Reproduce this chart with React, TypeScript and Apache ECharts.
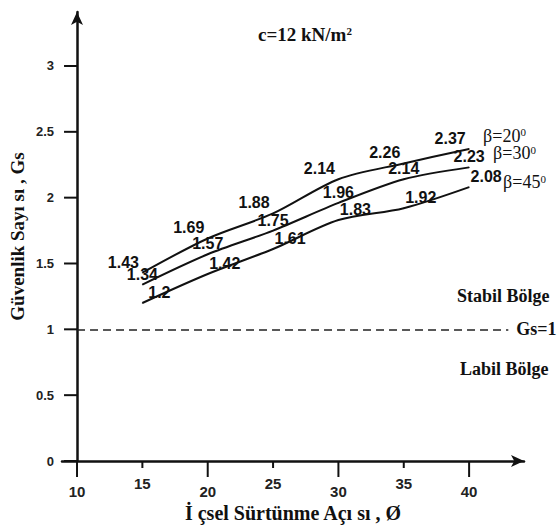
import React, { useEffect, useRef } from "react";
import * as echarts from "echarts";

const angles = [15, 20, 25, 30, 35, 40];
const gsBeta20 = [1.43, 1.69, 1.88, 2.14, 2.26, 2.37];
const gsBeta30 = [1.34, 1.57, 1.75, 1.96, 2.14, 2.23];
const gsBeta45 = [1.2, 1.42, 1.61, 1.83, 1.92, 2.08];
const betaNames = ["β=20", "β=30", "β=45"];
const xMajorTicks = [10, 20, 30, 40];
const xMinorTicks = [15, 25, 35];
const yTicks = [0, 0.5, 1, 1.5, 2, 2.5, 3];
const xAxisLineStart = 8.85;
const xAxisLineEnd = 44.2;
const yAxisLineEnd = 3.41;
const yAxisAt = 10;
const safetyLimit = 1;
const limitEnd = 43;

const SERIF = "'Liberation Serif', 'Times New Roman', serif";
const SANS = "'Liberation Sans', Arial, sans-serif";

export default function App() {
  const ref = useRef<HTMLDivElement>(null);
  useEffect(() => {
    if (!ref.current) return;
    const chart = echarts.init(ref.current, null, { renderer: "svg" });
    const sets = [gsBeta20, gsBeta30, gsBeta45];
    const labelDx = [-19, 0, 17];
    const endOffsets = [
      [14, -13],
      [24, -14],
      [34, -5],
    ];
    const series: any[] = sets.map((vals, i) => ({
      type: "line",
      name: betaNames[i],
      data: angles.map((a, k) => [a, vals[k]]),
      smooth: 0.3,
      symbol: "circle",
      symbolSize: 1,
      itemStyle: { color: "#111" },
      lineStyle: { color: "#111", width: 2 },
      label: {
        show: true,
        position: "top",
        distance: 2,
        offset: [labelDx[i], 0],
        formatter: (p: any) => String(p.value[1]),
        fontFamily: SANS,
        fontWeight: "bold",
        fontSize: 16,
        color: "#111",
      },
      endLabel: {
        show: true,
        distance: 0,
        offset: endOffsets[i],
        align: "left",
        formatter: "{a|" + betaNames[i] + "}{s|0}",
        rich: {
          a: { fontFamily: SERIF, fontSize: 18, color: "#111" },
          s: { fontFamily: SERIF, fontSize: 11, color: "#111", verticalAlign: "top" },
        },
      },
      markLine:
        i === 0
          ? {
              silent: true,
              symbol: "none",
              lineStyle: { type: [8, 5], color: "#222", width: 1.5 },
              label: {
                show: true,
                position: "end",
                distance: 8,
                formatter: "Gs=1",
                fontFamily: SERIF,
                fontWeight: "bold",
                fontSize: 18,
                color: "#111",
              },
              data: [[{ coord: [yAxisAt, safetyLimit] }, { coord: [limitEnd, safetyLimit] }]],
            }
          : undefined,
    }));

    const tickLabelStyle = { fontFamily: SANS, fontWeight: "bold", color: "#222" };
    const textStyle = (text: string) => ({
      text,
      fontFamily: SERIF,
      fontWeight: "bold",
      fontSize: 18,
      fill: "#111",
      verticalAlign: "middle",
    });

    chart.setOption({
      animation: false,
      title: {
        text: "{a|c=12 kN/m}{s|2}",
        left: 253,
        top: 20,
        textStyle: {
          rich: {
            a: { fontFamily: SERIF, fontWeight: "bold", fontSize: 19, color: "#111" },
            s: { fontFamily: SERIF, fontWeight: "bold", fontSize: 11, color: "#111", verticalAlign: "top" },
          },
        },
      },
      grid: { left: 62, right: 33, top: 12, bottom: 68, containLabel: false },
      xAxis: [
        {
          type: "value",
          position: "bottom",
          min: xAxisLineStart,
          max: xAxisLineEnd,
          axisLine: {
            show: true,
            onZero: false,
            symbol: ["none", "arrow"],
            symbolSize: [9, 13],
            lineStyle: { color: "#111", width: 2.5 },
          },
          axisTick: { show: false },
          axisLabel: { ...tickLabelStyle, fontSize: 15, margin: 15, customValues: xMinorTicks },
          splitLine: { show: false },
          name: "İ çsel Sürtünme Açı sı , Ø",
          nameLocation: "middle",
          nameGap: 42,
          nameTextStyle: { fontFamily: SERIF, fontWeight: "bold", fontSize: 20, color: "#111" },
        },
        {
          type: "value",
          position: "bottom",
          min: xAxisLineStart,
          max: xAxisLineEnd,
          axisLine: { show: false, onZero: false },
          axisTick: { show: false },
          axisLabel: { ...tickLabelStyle, fontSize: 15, margin: 23, customValues: xMajorTicks },
          splitLine: { show: false },
        },
      ],
      yAxis: {
        type: "value",
        position: "left",
        min: 0,
        max: yAxisLineEnd,
        offset: -15,
        axisLine: {
          show: true,
          onZero: false,
          symbol: ["none", "arrow"],
          symbolSize: [9, 13],
          lineStyle: { color: "#111", width: 2.5 },
        },
        axisTick: { show: false },
        axisLabel: { show: false },
        splitLine: { show: false },
        name: "Güvenlik Sayı sı , Gs",
        nameLocation: "middle",
        nameGap: 50,
        nameRotate: 90,
        nameTextStyle: { fontFamily: SERIF, fontWeight: "bold", fontSize: 19, color: "#111" },
      },
      series,
    });

    const toPx = (x: number, y: number) =>
      chart.convertToPixel({ xAxisIndex: 0, yAxisIndex: 0 }, [x, y]) as number[];
    const tickStroke = { stroke: "#111", lineWidth: 2 };
    const graphics: any[] = [];
    xMinorTicks.forEach((v) => {
      const [px, py] = toPx(v, 0);
      graphics.push({ type: "line", z: 100, shape: { x1: px, y1: py, x2: px, y2: py + 7 }, style: tickStroke });
    });
    xMajorTicks.forEach((v) => {
      const [px, py] = toPx(v, 0);
      graphics.push({ type: "line", z: 100, shape: { x1: px, y1: py, x2: px, y2: py + 16 }, style: tickStroke });
    });
    yTicks.forEach((v) => {
      const [px, py] = toPx(yAxisAt, v);
      graphics.push({ type: "line", z: 100, shape: { x1: px - 13, y1: py, x2: px, y2: py }, style: tickStroke });
      graphics.push({
        type: "text",
        z: 100,
        x: px - 23,
        y: py,
        style: {
          text: String(v),
          fontFamily: SANS,
          fontWeight: "bold",
          fontSize: 13,
          fill: "#222",
          align: "right",
          verticalAlign: "middle",
        },
      });
    });
    const [, stabilY] = toPx(yAxisAt, 1.25);
    const [, labilY] = toPx(yAxisAt, 0.7);
    graphics.push({ type: "text", z: 100, x: 457, y: stabilY, style: textStyle("Stabil Bölge") });
    graphics.push({ type: "text", z: 100, x: 460, y: labilY, style: textStyle("Labil Bölge") });
    chart.setOption({ graphic: graphics });

    return () => chart.dispose();
  }, []);
  return (
    <div
      ref={ref}
      style={{ position: "fixed", left: 0, top: 0, width: 557, height: 529, background: "#fff" }}
    />
  );
}
